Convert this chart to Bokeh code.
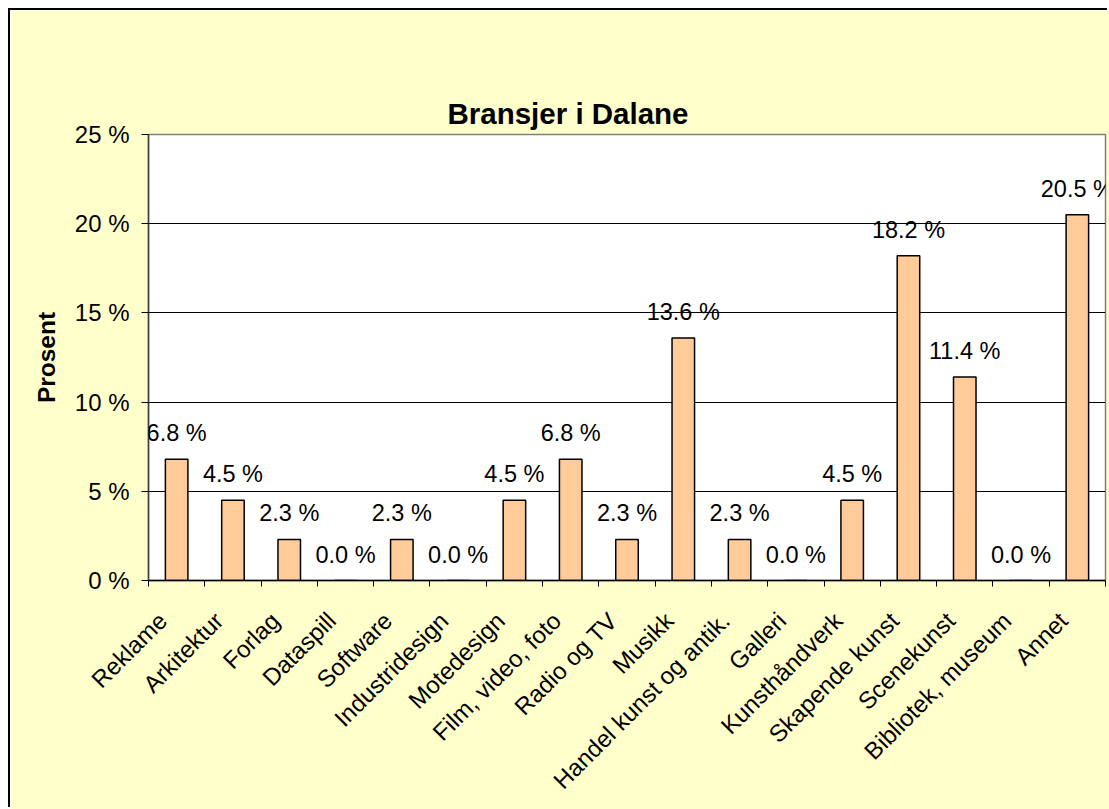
from bokeh.plotting import figure
from bokeh.models import (ColumnDataSource, LabelSet, Range1d, FixedTicker,
                          PrintfTickFormatter, Title)
from bokeh.embed import file_html
from bokeh.resources import INLINE
from bokeh.core.properties import value
import math

categories = ["Reklame", "Arkitektur", "Forlag", "Dataspill", "Software", "Industridesign",
              "Motedesign", "Film, video, foto", "Radio og TV", "Musikk",
              "Handel kunst og antik.", "Galleri", "Kunsthåndverk", "Skapende kunst",
              "Scenekunst", "Bibliotek, museum", "Annet"]
percent = [6.8, 4.5, 2.3, 0.0, 2.3, 0.0, 4.5, 6.8, 2.3, 13.6, 2.3, 0.0, 4.5, 18.2, 11.4, 0.0, 20.5]
y_ticks = [0, 5, 10, 15, 20, 25]
title_text = "Bransjer i Dalane"
y_label = "Prosent"

FONT = "Liberation Sans"
n = len(categories)
centers = [i + 0.5 for i in range(n)]
label_pos = [c - 0.25 for c in centers]
bounds = [float(i) for i in range(n + 1)]

src = ColumnDataSource(dict(x=centers, top=percent,
                            lab=[f"{v:.1f} %" for v in percent]))

p = figure(width=1099, height=799, output_backend="svg", toolbar_location=None,
           x_range=Range1d(0, n), y_range=Range1d(0, 25),
           min_border_left=138, min_border_top=124, min_border_right=4, min_border_bottom=229)
p.background_fill_color = "white"
p.border_fill_color = "#FFFFCC"
p.outline_line_color = "#808080"
p.outline_line_width = 1.5

# the built-in title (nearest the plot) is a blank spacer
p.title.text = " "
p.title.text_font_size = "10px"
p.title.standoff = 50
p.title.text_color = None

# the visible title sits outside the spacer
main_title = Title(text=title_text, align="left", offset=299, text_font=FONT,
                   text_font_size="29.5px", text_font_style="bold", text_color="black")
p.add_layout(main_title, "above")

p.vbar(x="x", top="top", width=0.4, source=src, fill_color="#FFCC99",
       line_color="black", line_width=1.5)

labels = LabelSet(x="x", y="top", text="lab", source=src, text_align="center",
                  text_baseline="alphabetic", y_offset=18, text_font=value(FONT),
                  text_font_size="23.5px", text_color="black")
p.add_layout(labels)

# y axis
p.yaxis.ticker = FixedTicker(ticks=y_ticks)
p.yaxis.formatter = PrintfTickFormatter(format="%d %%")
p.yaxis.major_label_text_font = FONT
p.yaxis.major_label_text_font_size = "24px"
p.yaxis.major_label_text_color = "black"
p.yaxis.major_tick_out = 7
p.yaxis.major_tick_in = 0
p.yaxis.minor_tick_line_color = None
p.yaxis.major_label_standoff = 12
p.yaxis.axis_line_color = "#404040"
p.yaxis.axis_line_width = 1.5
p.yaxis.major_tick_line_color = "black"
p.yaxis.axis_label = y_label
p.yaxis.axis_label_text_font = FONT
p.yaxis.axis_label_text_font_size = "24.5px"
p.yaxis.axis_label_text_font_style = "bold"
p.yaxis.axis_label_text_color = "black"
p.yaxis.axis_label_standoff = 12

# x axis
p.xaxis.ticker = FixedTicker(ticks=label_pos, minor_ticks=bounds)
p.xaxis.major_label_overrides = {c: name for c, name in zip(label_pos, categories)}
p.xaxis.major_label_orientation = math.pi / 4
p.xaxis.major_label_text_font = FONT
p.xaxis.major_label_text_font_size = "24px"
p.xaxis.major_label_text_color = "black"
p.xaxis.major_tick_line_color = None
p.xaxis.minor_tick_out = 6
p.xaxis.minor_tick_in = 0
p.xaxis.minor_tick_line_color = "black"
p.xaxis.axis_line_color = "black"
p.xaxis.axis_line_width = 1.5
p.xaxis.major_label_standoff = 30

p.xgrid.visible = False
p.ygrid.grid_line_color = "black"
p.ygrid.grid_line_width = 1

p.styles = {"margin-left": "10px", "margin-top": "10px",
            "box-shadow": "-2px -2px 0 0 black"}

open("out.html", "w").write(file_html(p, INLINE))
